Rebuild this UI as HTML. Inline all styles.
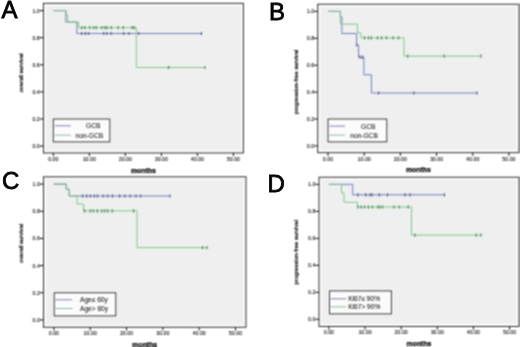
<!DOCTYPE html>
<html><head><meta charset="utf-8"><style>
html,body{margin:0;padding:0;background:#fff;width:520px;height:347px;overflow:hidden}
svg{display:block}
text{font-family:"Liberation Sans", sans-serif}
.tk{font-size:5.3px;fill:#111;stroke:#111;stroke-width:0.1px}
.mo{font-size:6.9px;font-weight:bold;fill:#000;stroke:#000;stroke-width:0.25px}
.yt{font-size:5.9px;fill:#000;stroke:#000;stroke-width:0.2px}
.let{font-size:24px;fill:#000;stroke:#000;stroke-width:0.8px}
.lg{font-size:6.6px;fill:#111;stroke:#111;stroke-width:0.05px}
</style></head><body>
<svg width="520" height="347" viewBox="0 0 520 347">
<defs><filter id="bl" x="0" y="0" width="520" height="347" filterUnits="userSpaceOnUse" color-interpolation-filters="sRGB"><feConvolveMatrix order="3" kernelMatrix="1 2 1 2 4 2 1 2 1" divisor="16" edgeMode="duplicate" preserveAlpha="true"/></filter></defs>
<g filter="url(#bl)">
<rect width="520" height="347" fill="#fff"/>
<rect x="43.4" y="3.3" width="200" height="149.7" fill="#f8f8f8" stroke="#303030" stroke-width="1"/>
<rect x="46.2" y="6.1" width="194.4" height="144.1" fill="#efefef"/>
<line x1="39.8" y1="146.1" x2="43.4" y2="146.1" stroke="#111" stroke-width="1"/>
<text x="39.8" y="148.1" text-anchor="end" class="tk">0.0</text>
<line x1="39.8" y1="119" x2="43.4" y2="119" stroke="#111" stroke-width="1"/>
<text x="39.8" y="121" text-anchor="end" class="tk">0.2</text>
<line x1="39.8" y1="91.9" x2="43.4" y2="91.9" stroke="#111" stroke-width="1"/>
<text x="39.8" y="93.9" text-anchor="end" class="tk">0.4</text>
<line x1="39.8" y1="64.8" x2="43.4" y2="64.8" stroke="#111" stroke-width="1"/>
<text x="39.8" y="66.8" text-anchor="end" class="tk">0.6</text>
<line x1="39.8" y1="37.7" x2="43.4" y2="37.7" stroke="#111" stroke-width="1"/>
<text x="39.8" y="39.7" text-anchor="end" class="tk">0.8</text>
<line x1="39.8" y1="10.6" x2="43.4" y2="10.6" stroke="#111" stroke-width="1"/>
<text x="39.8" y="12.6" text-anchor="end" class="tk">1.0</text>
<line x1="53.3" y1="153" x2="53.3" y2="156.2" stroke="#111" stroke-width="1"/>
<text x="53.3" y="160.9" text-anchor="middle" class="tk">0.00</text>
<line x1="89.32" y1="153" x2="89.32" y2="156.2" stroke="#111" stroke-width="1"/>
<text x="89.32" y="160.9" text-anchor="middle" class="tk">10.00</text>
<line x1="125.34" y1="153" x2="125.34" y2="156.2" stroke="#111" stroke-width="1"/>
<text x="125.34" y="160.9" text-anchor="middle" class="tk">20.00</text>
<line x1="161.36" y1="153" x2="161.36" y2="156.2" stroke="#111" stroke-width="1"/>
<text x="161.36" y="160.9" text-anchor="middle" class="tk">30.00</text>
<line x1="197.38" y1="153" x2="197.38" y2="156.2" stroke="#111" stroke-width="1"/>
<text x="197.38" y="160.9" text-anchor="middle" class="tk">40.00</text>
<line x1="233.4" y1="153" x2="233.4" y2="156.2" stroke="#111" stroke-width="1"/>
<text x="233.4" y="160.9" text-anchor="middle" class="tk">50.00</text>
<text x="143.4" y="172.8" text-anchor="middle" class="mo">months</text>
<text transform="translate(23.2,73) rotate(-90)" text-anchor="middle" class="yt">overall survival</text>
<polyline points="53.3,10.6 65.8,10.6 65.8,22 76.9,22 76.9,33.5 201.5,33.5" fill="none" stroke="#e9ecf8" stroke-width="3.5"/>
<polyline points="53.3,10.6 65.8,10.6 65.8,15 67.7,15 67.7,22 78.5,22 78.5,27.7 136.3,27.7 136.3,67.5 205,67.5" fill="none" stroke="#e4f8e6" stroke-width="3.5"/>
<polyline points="53.3,10.6 65.8,10.6 65.8,22 76.9,22 76.9,33.5 201.5,33.5" fill="none" stroke="#7d84a8" stroke-width="1"/>
<polyline points="53.3,10.6 65.8,10.6 65.8,15 67.7,15 67.7,22 78.5,22 78.5,27.7 136.3,27.7 136.3,67.5 205,67.5" fill="none" stroke="#95b89a" stroke-width="1"/>
<polyline points="53.3,10.6 65.8,10.6 65.8,15" fill="none" stroke="#9aa9a8" stroke-width="1"/>
<path d="M81.8,31.9v3.2" stroke="#4f5680" stroke-width="1.1"/>
<path d="M85.5,31.9v3.2" stroke="#4f5680" stroke-width="1.1"/>
<path d="M88.6,31.9v3.2" stroke="#4f5680" stroke-width="1.1"/>
<path d="M103.7,31.9v3.2" stroke="#4f5680" stroke-width="1.1"/>
<path d="M106.8,31.9v3.2" stroke="#4f5680" stroke-width="1.1"/>
<path d="M111.2,31.9v3.2" stroke="#4f5680" stroke-width="1.1"/>
<path d="M123.6,31.9v3.2" stroke="#4f5680" stroke-width="1.1"/>
<path d="M128.9,31.9v3.2" stroke="#4f5680" stroke-width="1.1"/>
<path d="M138.7,31.9v3.2" stroke="#4f5680" stroke-width="1.1"/>
<path d="M201.5,31.9v3.2" stroke="#4f5680" stroke-width="1.1"/>
<path d="M81.8,26.1v3.2" stroke="#4a7e58" stroke-width="1.1"/>
<path d="M84.9,26.1v3.2" stroke="#4a7e58" stroke-width="1.1"/>
<path d="M89.8,26.1v3.2" stroke="#4a7e58" stroke-width="1.1"/>
<path d="M93.8,26.1v3.2" stroke="#4a7e58" stroke-width="1.1"/>
<path d="M96.3,26.1v3.2" stroke="#4a7e58" stroke-width="1.1"/>
<path d="M101.8,26.1v3.2" stroke="#4a7e58" stroke-width="1.1"/>
<path d="M104.9,26.1v3.2" stroke="#4a7e58" stroke-width="1.1"/>
<path d="M107,26.1v3.2" stroke="#4a7e58" stroke-width="1.1"/>
<path d="M111.2,26.1v3.2" stroke="#4a7e58" stroke-width="1.1"/>
<path d="M118.1,26.1v3.2" stroke="#4a7e58" stroke-width="1.1"/>
<path d="M123.3,26.1v3.2" stroke="#4a7e58" stroke-width="1.1"/>
<path d="M132.1,26.1v3.2" stroke="#4a7e58" stroke-width="1.1"/>
<path d="M134.1,26.1v3.2" stroke="#4a7e58" stroke-width="1.1"/>
<path d="M168.5,65.9v3.2" stroke="#4a7e58" stroke-width="1.1"/>
<path d="M205,65.9v3.2" stroke="#4a7e58" stroke-width="1.1"/>
<rect x="52" y="117.7" width="59.1" height="25.5" fill="#fafafa"/>
<rect x="53.3" y="119" width="56.5" height="22.9" fill="#fbfbfb" stroke="#383838" stroke-width="1"/>
<line x1="54.7" y1="125.8" x2="70.9" y2="125.8" stroke="#7d84a8" stroke-width="1"/>
<line x1="54.7" y1="135.2" x2="70.9" y2="135.2" stroke="#95b89a" stroke-width="1"/>
<text x="86" y="128.2" class="lg">GCB</text>
<text x="75.6" y="137.6" class="lg">non-GCB</text>
<rect x="317.7" y="4.2" width="201.3" height="148.5" fill="#f8f8f8" stroke="#303030" stroke-width="1"/>
<rect x="320.5" y="7" width="195.7" height="142.9" fill="#efefef"/>
<line x1="314.1" y1="145.9" x2="317.7" y2="145.9" stroke="#111" stroke-width="1"/>
<text x="314.1" y="147.9" text-anchor="end" class="tk">0.0</text>
<line x1="314.1" y1="119" x2="317.7" y2="119" stroke="#111" stroke-width="1"/>
<text x="314.1" y="121" text-anchor="end" class="tk">0.2</text>
<line x1="314.1" y1="92.1" x2="317.7" y2="92.1" stroke="#111" stroke-width="1"/>
<text x="314.1" y="94.1" text-anchor="end" class="tk">0.4</text>
<line x1="314.1" y1="65.2" x2="317.7" y2="65.2" stroke="#111" stroke-width="1"/>
<text x="314.1" y="67.2" text-anchor="end" class="tk">0.6</text>
<line x1="314.1" y1="38.3" x2="317.7" y2="38.3" stroke="#111" stroke-width="1"/>
<text x="314.1" y="40.3" text-anchor="end" class="tk">0.8</text>
<line x1="314.1" y1="11.4" x2="317.7" y2="11.4" stroke="#111" stroke-width="1"/>
<text x="314.1" y="13.4" text-anchor="end" class="tk">1.0</text>
<line x1="328" y1="152.7" x2="328" y2="155.9" stroke="#111" stroke-width="1"/>
<text x="328" y="160.6" text-anchor="middle" class="tk">0.00</text>
<line x1="364.18" y1="152.7" x2="364.18" y2="155.9" stroke="#111" stroke-width="1"/>
<text x="364.18" y="160.6" text-anchor="middle" class="tk">10.00</text>
<line x1="400.36" y1="152.7" x2="400.36" y2="155.9" stroke="#111" stroke-width="1"/>
<text x="400.36" y="160.6" text-anchor="middle" class="tk">20.00</text>
<line x1="436.54" y1="152.7" x2="436.54" y2="155.9" stroke="#111" stroke-width="1"/>
<text x="436.54" y="160.6" text-anchor="middle" class="tk">30.00</text>
<line x1="472.72" y1="152.7" x2="472.72" y2="155.9" stroke="#111" stroke-width="1"/>
<text x="472.72" y="160.6" text-anchor="middle" class="tk">40.00</text>
<line x1="508.9" y1="152.7" x2="508.9" y2="155.9" stroke="#111" stroke-width="1"/>
<text x="508.9" y="160.6" text-anchor="middle" class="tk">50.00</text>
<text x="418.35" y="172.3" text-anchor="middle" class="mo">months</text>
<text transform="translate(298.2,81.9) rotate(-90)" text-anchor="middle" class="yt">progression-free survival</text>
<polyline points="328,11.4 340.4,11.4 340.4,16.8 341.9,16.8 341.9,33.5 356.6,33.5 356.6,45 358.6,45 358.6,57.2 363.9,57.2 363.9,74.8 371.4,74.8 371.4,93 477,93" fill="none" stroke="#e9ecf8" stroke-width="3.5"/>
<polyline points="328,11.4 340.4,11.4 340.4,24.1 357.5,24.1 357.5,32.8 361,32.8 361,37.9 404,37.9 404,56.1 481,56.1" fill="none" stroke="#e4f8e6" stroke-width="3.5"/>
<polyline points="328,11.4 340.4,11.4 340.4,16.8 341.9,16.8 341.9,33.5 356.6,33.5 356.6,45 358.6,45 358.6,57.2 363.9,57.2 363.9,74.8 371.4,74.8 371.4,93 477,93" fill="none" stroke="#7d84a8" stroke-width="1"/>
<polyline points="328,11.4 340.4,11.4 340.4,24.1 357.5,24.1 357.5,32.8 361,32.8 361,37.9 404,37.9 404,56.1 481,56.1" fill="none" stroke="#95b89a" stroke-width="1"/>
<polyline points="328,11.4 340.4,11.4 340.4,16.8" fill="none" stroke="#9aa9a8" stroke-width="1"/>
<path d="M356.6,43.4v3.2" stroke="#4f5680" stroke-width="1.1"/>
<path d="M360,55.6v3.2" stroke="#4f5680" stroke-width="1.1"/>
<path d="M362.5,55.6v3.2" stroke="#4f5680" stroke-width="1.1"/>
<path d="M378.6,91.4v3.2" stroke="#4f5680" stroke-width="1.1"/>
<path d="M413.8,91.4v3.2" stroke="#4f5680" stroke-width="1.1"/>
<path d="M477,91.4v3.2" stroke="#4f5680" stroke-width="1.1"/>
<path d="M364.5,36.3v3.2" stroke="#4a7e58" stroke-width="1.1"/>
<path d="M368.5,36.3v3.2" stroke="#4a7e58" stroke-width="1.1"/>
<path d="M371.3,36.3v3.2" stroke="#4a7e58" stroke-width="1.1"/>
<path d="M377.5,36.3v3.2" stroke="#4a7e58" stroke-width="1.1"/>
<path d="M381.5,36.3v3.2" stroke="#4a7e58" stroke-width="1.1"/>
<path d="M386.5,36.3v3.2" stroke="#4a7e58" stroke-width="1.1"/>
<path d="M393,36.3v3.2" stroke="#4a7e58" stroke-width="1.1"/>
<path d="M398.5,36.3v3.2" stroke="#4a7e58" stroke-width="1.1"/>
<path d="M407.7,54.5v3.2" stroke="#4a7e58" stroke-width="1.1"/>
<path d="M444.2,54.5v3.2" stroke="#4a7e58" stroke-width="1.1"/>
<path d="M481,54.5v3.2" stroke="#4a7e58" stroke-width="1.1"/>
<rect x="326.7" y="117.7" width="61.4" height="25.5" fill="#fafafa"/>
<rect x="328" y="119" width="58.8" height="22.9" fill="#fbfbfb" stroke="#383838" stroke-width="1"/>
<line x1="329.4" y1="126.1" x2="344.9" y2="126.1" stroke="#7d84a8" stroke-width="1"/>
<line x1="329.4" y1="135.1" x2="344.9" y2="135.1" stroke="#95b89a" stroke-width="1"/>
<text x="361" y="128.5" class="lg">GCB</text>
<text x="350.3" y="137.5" class="lg">non-GCB</text>
<rect x="43.5" y="176.8" width="202.5" height="150.5" fill="#f8f8f8" stroke="#303030" stroke-width="1"/>
<rect x="46.3" y="179.6" width="196.9" height="144.9" fill="#efefef"/>
<line x1="39.9" y1="319.9" x2="43.5" y2="319.9" stroke="#111" stroke-width="1"/>
<text x="39.9" y="321.9" text-anchor="end" class="tk">0.0</text>
<line x1="39.9" y1="292.74" x2="43.5" y2="292.74" stroke="#111" stroke-width="1"/>
<text x="39.9" y="294.74" text-anchor="end" class="tk">0.2</text>
<line x1="39.9" y1="265.58" x2="43.5" y2="265.58" stroke="#111" stroke-width="1"/>
<text x="39.9" y="267.58" text-anchor="end" class="tk">0.4</text>
<line x1="39.9" y1="238.42" x2="43.5" y2="238.42" stroke="#111" stroke-width="1"/>
<text x="39.9" y="240.42" text-anchor="end" class="tk">0.6</text>
<line x1="39.9" y1="211.26" x2="43.5" y2="211.26" stroke="#111" stroke-width="1"/>
<text x="39.9" y="213.26" text-anchor="end" class="tk">0.8</text>
<line x1="39.9" y1="184.1" x2="43.5" y2="184.1" stroke="#111" stroke-width="1"/>
<text x="39.9" y="186.1" text-anchor="end" class="tk">1.0</text>
<line x1="53.9" y1="327.3" x2="53.9" y2="330.5" stroke="#111" stroke-width="1"/>
<text x="53.9" y="335.2" text-anchor="middle" class="tk">0.00</text>
<line x1="90.22" y1="327.3" x2="90.22" y2="330.5" stroke="#111" stroke-width="1"/>
<text x="90.22" y="335.2" text-anchor="middle" class="tk">10.00</text>
<line x1="126.54" y1="327.3" x2="126.54" y2="330.5" stroke="#111" stroke-width="1"/>
<text x="126.54" y="335.2" text-anchor="middle" class="tk">20.00</text>
<line x1="162.86" y1="327.3" x2="162.86" y2="330.5" stroke="#111" stroke-width="1"/>
<text x="162.86" y="335.2" text-anchor="middle" class="tk">30.00</text>
<line x1="199.18" y1="327.3" x2="199.18" y2="330.5" stroke="#111" stroke-width="1"/>
<text x="199.18" y="335.2" text-anchor="middle" class="tk">40.00</text>
<line x1="235.5" y1="327.3" x2="235.5" y2="330.5" stroke="#111" stroke-width="1"/>
<text x="235.5" y="335.2" text-anchor="middle" class="tk">50.00</text>
<text x="144.75" y="346.6" text-anchor="middle" class="mo">months</text>
<text transform="translate(23,243.4) rotate(-90)" text-anchor="middle" class="yt">overall survival</text>
<polyline points="53.9,184.2 66.3,184.2 66.3,189.3 69.3,189.3 69.3,196 170,196" fill="none" stroke="#e9ecf8" stroke-width="3.5"/>
<polyline points="53.9,184.2 66.3,184.2 66.3,189.3 69.3,189.3 69.3,196 77.1,196 77.1,204 83.5,204 83.5,210.9 137,210.9 137,247.6 207,247.6" fill="none" stroke="#e4f8e6" stroke-width="3.5"/>
<polyline points="53.9,184.2 66.3,184.2 66.3,189.3 69.3,189.3 69.3,196 170,196" fill="none" stroke="#7d84a8" stroke-width="1"/>
<polyline points="53.9,184.2 66.3,184.2 66.3,189.3 69.3,189.3 69.3,196 77.1,196 77.1,204 83.5,204 83.5,210.9 137,210.9 137,247.6 207,247.6" fill="none" stroke="#95b89a" stroke-width="1"/>
<polyline points="53.9,184.2 66.3,184.2 66.3,189.3 69.3,189.3 69.3,196" fill="none" stroke="#9aa9a8" stroke-width="1"/>
<path d="M82.6,194.4v3.2" stroke="#4f5680" stroke-width="1.1"/>
<path d="M86.6,194.4v3.2" stroke="#4f5680" stroke-width="1.1"/>
<path d="M90.3,194.4v3.2" stroke="#4f5680" stroke-width="1.1"/>
<path d="M94.3,194.4v3.2" stroke="#4f5680" stroke-width="1.1"/>
<path d="M97.4,194.4v3.2" stroke="#4f5680" stroke-width="1.1"/>
<path d="M103.2,194.4v3.2" stroke="#4f5680" stroke-width="1.1"/>
<path d="M107.7,194.4v3.2" stroke="#4f5680" stroke-width="1.1"/>
<path d="M112.5,194.4v3.2" stroke="#4f5680" stroke-width="1.1"/>
<path d="M119.5,194.4v3.2" stroke="#4f5680" stroke-width="1.1"/>
<path d="M124.8,194.4v3.2" stroke="#4f5680" stroke-width="1.1"/>
<path d="M130.2,194.4v3.2" stroke="#4f5680" stroke-width="1.1"/>
<path d="M136,194.4v3.2" stroke="#4f5680" stroke-width="1.1"/>
<path d="M140.6,194.4v3.2" stroke="#4f5680" stroke-width="1.1"/>
<path d="M170,194.4v3.2" stroke="#4f5680" stroke-width="1.1"/>
<path d="M84.6,209.3v3.2" stroke="#4a7e58" stroke-width="1.1"/>
<path d="M90.4,209.3v3.2" stroke="#4a7e58" stroke-width="1.1"/>
<path d="M93.3,209.3v3.2" stroke="#4a7e58" stroke-width="1.1"/>
<path d="M97.3,209.3v3.2" stroke="#4a7e58" stroke-width="1.1"/>
<path d="M101.9,209.3v3.2" stroke="#4a7e58" stroke-width="1.1"/>
<path d="M104.8,209.3v3.2" stroke="#4a7e58" stroke-width="1.1"/>
<path d="M107.7,209.3v3.2" stroke="#4a7e58" stroke-width="1.1"/>
<path d="M112.3,209.3v3.2" stroke="#4a7e58" stroke-width="1.1"/>
<path d="M133.6,209.3v3.2" stroke="#4a7e58" stroke-width="1.1"/>
<path d="M202.5,246v3.2" stroke="#4a7e58" stroke-width="1.1"/>
<path d="M207,246v3.2" stroke="#4a7e58" stroke-width="1.1"/>
<rect x="52.9" y="291.45" width="64.2" height="25.75" fill="#fafafa"/>
<rect x="54.2" y="292.75" width="61.6" height="23.15" fill="#fbfbfb" stroke="#383838" stroke-width="1"/>
<line x1="55.4" y1="299.8" x2="72.2" y2="299.8" stroke="#7d84a8" stroke-width="1"/>
<line x1="55.4" y1="308.5" x2="72.2" y2="308.5" stroke="#95b89a" stroke-width="1"/>
<text x="80" y="302.2" class="lg">Age≤ 60y</text>
<text x="80" y="310.9" class="lg">Age> 60y</text>
<rect x="319" y="177.2" width="200" height="149.3" fill="#f8f8f8" stroke="#303030" stroke-width="1"/>
<rect x="321.8" y="180" width="194.4" height="143.7" fill="#efefef"/>
<line x1="315.4" y1="319.3" x2="319" y2="319.3" stroke="#111" stroke-width="1"/>
<text x="315.4" y="321.3" text-anchor="end" class="tk">0.0</text>
<line x1="315.4" y1="292.32" x2="319" y2="292.32" stroke="#111" stroke-width="1"/>
<text x="315.4" y="294.32" text-anchor="end" class="tk">0.2</text>
<line x1="315.4" y1="265.34" x2="319" y2="265.34" stroke="#111" stroke-width="1"/>
<text x="315.4" y="267.34" text-anchor="end" class="tk">0.4</text>
<line x1="315.4" y1="238.36" x2="319" y2="238.36" stroke="#111" stroke-width="1"/>
<text x="315.4" y="240.36" text-anchor="end" class="tk">0.6</text>
<line x1="315.4" y1="211.38" x2="319" y2="211.38" stroke="#111" stroke-width="1"/>
<text x="315.4" y="213.38" text-anchor="end" class="tk">0.8</text>
<line x1="315.4" y1="184.4" x2="319" y2="184.4" stroke="#111" stroke-width="1"/>
<text x="315.4" y="186.4" text-anchor="end" class="tk">1.0</text>
<line x1="328.9" y1="326.5" x2="328.9" y2="329.7" stroke="#111" stroke-width="1"/>
<text x="328.9" y="334.4" text-anchor="middle" class="tk">0.00</text>
<line x1="365.04" y1="326.5" x2="365.04" y2="329.7" stroke="#111" stroke-width="1"/>
<text x="365.04" y="334.4" text-anchor="middle" class="tk">10.00</text>
<line x1="401.18" y1="326.5" x2="401.18" y2="329.7" stroke="#111" stroke-width="1"/>
<text x="401.18" y="334.4" text-anchor="middle" class="tk">20.00</text>
<line x1="437.32" y1="326.5" x2="437.32" y2="329.7" stroke="#111" stroke-width="1"/>
<text x="437.32" y="334.4" text-anchor="middle" class="tk">30.00</text>
<line x1="473.46" y1="326.5" x2="473.46" y2="329.7" stroke="#111" stroke-width="1"/>
<text x="473.46" y="334.4" text-anchor="middle" class="tk">40.00</text>
<line x1="509.6" y1="326.5" x2="509.6" y2="329.7" stroke="#111" stroke-width="1"/>
<text x="509.6" y="334.4" text-anchor="middle" class="tk">50.00</text>
<text x="419" y="346.1" text-anchor="middle" class="mo">months</text>
<text transform="translate(298,252.3) rotate(-90)" text-anchor="middle" class="yt">progression-free survival</text>
<polyline points="328.9,184.4 352.7,184.4 352.7,194.8 444.5,194.8" fill="none" stroke="#e9ecf8" stroke-width="3.5"/>
<polyline points="328.9,184.4 341.5,184.4 341.5,193 344,193 344,202.3 357.5,202.3 357.5,207 411.5,207 411.5,235.1 481,235.1" fill="none" stroke="#e4f8e6" stroke-width="3.5"/>
<polyline points="328.9,184.4 352.7,184.4 352.7,194.8 444.5,194.8" fill="none" stroke="#7d84a8" stroke-width="1"/>
<polyline points="328.9,184.4 341.5,184.4 341.5,193 344,193 344,202.3 357.5,202.3 357.5,207 411.5,207 411.5,235.1 481,235.1" fill="none" stroke="#95b89a" stroke-width="1"/>
<polyline points="328.9,184.4 341.5,184.4" fill="none" stroke="#9aa9a8" stroke-width="1"/>
<path d="M357.8,193.2v3.2" stroke="#4f5680" stroke-width="1.1"/>
<path d="M365.8,193.2v3.2" stroke="#4f5680" stroke-width="1.1"/>
<path d="M370.1,193.2v3.2" stroke="#4f5680" stroke-width="1.1"/>
<path d="M372,193.2v3.2" stroke="#4f5680" stroke-width="1.1"/>
<path d="M379.3,193.2v3.2" stroke="#4f5680" stroke-width="1.1"/>
<path d="M387.5,193.2v3.2" stroke="#4f5680" stroke-width="1.1"/>
<path d="M404.9,193.2v3.2" stroke="#4f5680" stroke-width="1.1"/>
<path d="M410.1,193.2v3.2" stroke="#4f5680" stroke-width="1.1"/>
<path d="M444.5,193.2v3.2" stroke="#4f5680" stroke-width="1.1"/>
<path d="M357.8,205.4v3.2" stroke="#4a7e58" stroke-width="1.1"/>
<path d="M361.2,205.4v3.2" stroke="#4a7e58" stroke-width="1.1"/>
<path d="M364.7,205.4v3.2" stroke="#4a7e58" stroke-width="1.1"/>
<path d="M368.5,205.4v3.2" stroke="#4a7e58" stroke-width="1.1"/>
<path d="M372.4,205.4v3.2" stroke="#4a7e58" stroke-width="1.1"/>
<path d="M377.8,205.4v3.2" stroke="#4a7e58" stroke-width="1.1"/>
<path d="M379.7,205.4v3.2" stroke="#4a7e58" stroke-width="1.1"/>
<path d="M382.4,205.4v3.2" stroke="#4a7e58" stroke-width="1.1"/>
<path d="M394,205.4v3.2" stroke="#4a7e58" stroke-width="1.1"/>
<path d="M399.2,205.4v3.2" stroke="#4a7e58" stroke-width="1.1"/>
<path d="M408.2,205.4v3.2" stroke="#4a7e58" stroke-width="1.1"/>
<path d="M414.9,233.5v3.2" stroke="#4a7e58" stroke-width="1.1"/>
<path d="M476.2,233.5v3.2" stroke="#4a7e58" stroke-width="1.1"/>
<path d="M481,233.5v3.2" stroke="#4a7e58" stroke-width="1.1"/>
<rect x="328.2" y="289.6" width="64.5" height="25.6" fill="#fafafa"/>
<rect x="329.5" y="290.9" width="61.9" height="23" fill="#fbfbfb" stroke="#383838" stroke-width="1"/>
<line x1="330.7" y1="298.8" x2="346.2" y2="298.8" stroke="#7d84a8" stroke-width="1"/>
<line x1="330.7" y1="306.9" x2="346.2" y2="306.9" stroke="#95b89a" stroke-width="1"/>
<text x="348.2" y="301.2" class="lg">Ki67≤ 90%</text>
<text x="348.2" y="309.3" class="lg">Ki67> 90%</text>
</g>
<text transform="translate(1.5,17.9)" class="let">A</text>
<text transform="translate(268.9,19.9)" class="let">B</text>
<text transform="translate(2.1,189)" class="let">C</text>
<text transform="translate(267.6,192)" class="let">D</text>
</svg>
</body></html>
